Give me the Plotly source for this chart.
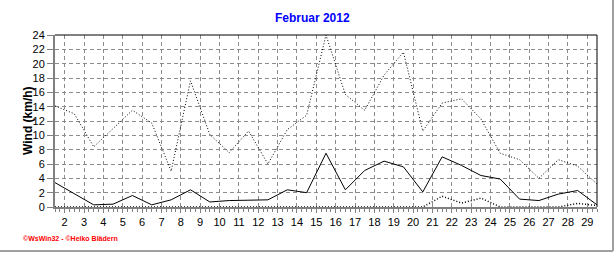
import plotly.graph_objects as go

days = list(range(1, 30))
tick_days = list(range(2, 30))
y_ticks = list(range(0, 25, 2))

wind_mean = [3.4, 1.9, 0.3, 0.4, 1.6, 0.3, 1.0, 2.4, 0.7, 0.9, 0.9, 1.0, 2.4, 2.0,
             7.5, 2.4, 5.1, 6.4, 5.6, 2.1, 7.0, 5.8, 4.4, 3.9, 1.1, 0.9, 1.8, 2.3, 0.3]
wind_max = [14.1, 13.0, 8.4, 10.9, 13.5, 11.7, 5.0, 17.6, 10.1, 7.6, 10.6, 6.0, 10.8, 12.8,
            24.0, 15.7, 13.5, 18.4, 21.6, 10.6, 14.5, 15.1, 12.3, 7.5, 6.6, 4.0, 6.6, 5.7, 3.2]
wind_min = [0, 0, 0, 0, 0, 0, 0, 0, 0, 0, 0, 0, 0, 0, 0, 0, 0, 0, 0, 0,
            1.5, 0.55, 1.25, 0, 0, 0, 0, 0.5, 0.2]

title_text = "Februar 2012"
y_title = "Wind (km/h)"
credit = "©WsWin32 - ©Heiko Blädern"

xpos = [d + 0.5 for d in days]

W, H = 616, 253
L, R, T, B = 55, 19, 35, 46
pw, ph = W - L - R, H - T - B

def px2paper_x(px):
    return (px - L) / pw

def px2paper_y(py):
    return (H - B - py) / ph

fig = go.Figure()
fig.add_trace(go.Scatter(x=xpos, y=wind_max, mode="lines",
                         line=dict(color="black", width=1, dash="1px,2px"), hoverinfo="skip"))
fig.add_trace(go.Scatter(x=xpos, y=wind_mean, mode="lines",
                         line=dict(color="black", width=1), hoverinfo="skip"))
fig.add_trace(go.Scatter(x=xpos, y=wind_min, mode="lines",
                         line=dict(color="black", width=1.5, dash="1px,2px"), hoverinfo="skip"))

grid = dict(showgrid=True, gridcolor="#8c8c8c", gridwidth=1, griddash="4px,3px")
fig.update_xaxes(range=[1.5, 29.5], tickvals=tick_days, ticktext=[str(d) for d in tick_days],
                 ticks="outside", ticklen=4, tickcolor="#808080",
                 minor=dict(ticks="outside", ticklen=3, tickcolor="#808080", tick0=1.5, dtick=0.25,
                            showgrid=False),
                 showline=True, linecolor="#808080", linewidth=2, layer="below traces",
                 zeroline=False, tickfont=dict(family="Liberation Sans, Arial", size=11, color="black"),
                 fixedrange=True, **grid)
fig.update_yaxes(range=[0, 24], tickvals=y_ticks, ticks="outside", ticklen=6, tickcolor="#808080",
                 showline=True, linecolor="#808080", linewidth=2, layer="below traces",
                 zeroline=False, tickfont=dict(family="Liberation Sans, Arial", size=11, color="black"),
                 fixedrange=True, **grid)

shapes = [
    dict(type="line", xref="paper", yref="paper", x0=0, x1=1, y0=1, y1=1,
         line=dict(color="black", width=1)),
    dict(type="line", xref="paper", yref="paper", x0=1, x1=1, y0=0, y1=1,
         line=dict(color="black", width=1)),
    dict(type="line", xref="paper", yref="paper", x0=px2paper_x(613), x1=px2paper_x(613),
         y0=px2paper_y(251), y1=px2paper_y(0), line=dict(color="#a0a0a0", width=2)),
    dict(type="line", xref="paper", yref="paper", x0=px2paper_x(0), x1=px2paper_x(613),
         y0=px2paper_y(251), y1=px2paper_y(251), line=dict(color="#a0a0a0", width=2)),
]

annotations = [
    dict(text="<b>" + y_title + "</b>", xref="paper", yref="paper",
         x=px2paper_x(28), y=0.5, textangle=-90, showarrow=False,
         xanchor="center", yanchor="middle",
         font=dict(family="Liberation Sans, Arial", size=12, color="black")),
    dict(text="<b>" + credit + "</b>", xref="paper", yref="paper", x=px2paper_x(21), y=px2paper_y(239),
         xanchor="left", yanchor="middle", showarrow=False,
         font=dict(family="Liberation Sans, Arial", size=7, color="red")),
]

fig.update_layout(
    width=W, height=H, margin=dict(l=L, r=R, t=T, b=B),
    paper_bgcolor="white", plot_bgcolor="white", showlegend=False,
    title=dict(text="<b>" + title_text + "</b>", x=0.507, xanchor="center", y=1 - 18 / H, yanchor="middle",
               font=dict(family="Liberation Sans, Arial", size=12, color="#0000ff")),
    shapes=shapes, annotations=annotations,
)

fig.write_html("out.html", config={"displayModeBar": False})
